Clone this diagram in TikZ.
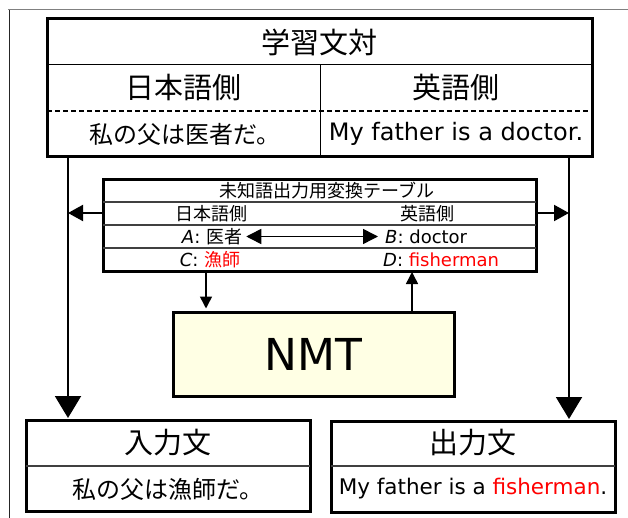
\documentclass[tikz,border=0pt]{standalone}
\usepackage{fontspec}
\setmainfont{DejaVu Sans}
\newfontfamily\jp{Noto Sans CJK JP}
\usetikzlibrary{arrows.meta,calc}
\definecolor{nmtfill}{RGB}{255,255,228}
\newcommand{\fsz}[1]{\fontsize{#1}{#1}\selectfont}
\begin{document}
\begin{tikzpicture}[x=1pt,y=-1pt,
 thickbox/.style={draw, line width=3pt, inner sep=0pt, outer sep=0pt},
 thinline/.style={line width=1pt},
 rowline/.style={line width=1.5pt, draw=black!75},
 lbl/.style={inner sep=0pt, anchor=center},
 bigarrow/.style={line width=2pt, -{Triangle[length=22pt,width=26pt]}},
 midarrow/.style={line width=2pt, -{Triangle[length=15pt,width=16pt]}},
 smallarrow/.style={line width=1.5pt, -{Triangle[length=12pt,width=12pt]}},
 dblarrow/.style={line width=1.5pt, {Triangle[length=15pt,width=15pt]}-{Triangle[length=15pt,width=15pt]}},
]
\useasboundingbox (0,0) rectangle (628,518);
\fill[white] (0,0) rectangle (628,518);
% outer frame
\draw[gray, line width=1.5pt] (8,9.5) -- (628,9.5);
\draw[black!85, line width=1pt] (9,10) -- (9,518);

% training pair table
\node[thickbox, minimum width=545pt, minimum height=138pt] (train) at (319.5,88) {};
\coordinate (y65) at (0,65);
\coordinate (y111) at (0,111);
\coordinate (xdiv) at (320,0);
\draw[thinline] (train.west |- y65) -- (train.east |- y65);
\draw[line width=1.3pt, dash pattern=on 5pt off 3pt] (train.west |- y111) -- (train.east |- y111);
\draw[thinline] (xdiv |- y65) -- (xdiv |- train.south);
\node[lbl] (ttl) at (319.5,42) {\jp\fsz{29}学習文対};
\node[lbl] (jph) at (183.5,88) {\jp\fsz{29}日本語側};
\node[lbl] (enh) at (456,88) {\jp\fsz{29}英語側};
\node[lbl] (jps) at (185,134) {\jp\fsz{24}私の父は医者だ。};
\node[lbl] (ens) at (456,134) {\fsz{24}My father is a doctor.};

% conversion table
\node[thickbox, minimum width=433pt, minimum height=91pt] (conv) at (319.5,225.5) {};
\coordinate (r1) at (0,202);
\coordinate (r2) at (0,225);
\coordinate (r3) at (0,248);
\draw[rowline] (conv.west |- r1) -- (conv.east |- r1);
\draw[rowline] (conv.west |- r2) -- (conv.east |- r2);
\draw[rowline] (conv.west |- r3) -- (conv.east |- r3);
\node[lbl] (ctitle) at (327,191) {\jp\fsz{18}未知語出力用変換テーブル};
\node[lbl] (cjp) at (211,213.5) {\jp\fsz{18}日本語側};
\node[lbl] (cen) at (427,213.5) {\jp\fsz{18}英語側};
\node[lbl] (ca) at (212,236.5) {\fsz{18}\textit{A}: {\jp 医者}};
\node[lbl, anchor=west] (cb) at (385,236.5) {\fsz{18}\textit{B}: doctor};
\node[lbl] (cc) at (210,259.5) {\fsz{18}\textit{C}: \textcolor{red}{\jp 漁師}};
\node[lbl, anchor=west] (cd) at (383,259.5) {\fsz{18}\textit{D}: \textcolor{red}{fisherman}};
\draw[dblarrow] ($(ca.east)+(4,0)$) -- ($(cb.west |- ca.east)+(-7,0)$);

% NMT
\node[draw, line width=3pt, fill=nmtfill, minimum width=281pt, minimum height=84pt] (nmt) at (313.5,354) {\fsz{44}NMT};

% bottom boxes
\node[thickbox, minimum width=284pt, minimum height=91pt] (inbox) at (168,465.5) {};
\node[thickbox, minimum width=284pt, minimum height=91pt] (outbox) at (473,466.5) {};
\coordinate (y466) at (0,466);
\draw[rowline] (inbox.west |- y466) -- (inbox.east |- y466);
\draw[rowline] (outbox.west |- y466) -- (outbox.east |- y466);
\node[lbl] (inh) at (168,443) {\jp\fsz{29}入力文};
\node[lbl] (ins) at (168,489) {\jp\fsz{24}私の父は漁師だ。};
\node[lbl] (outh) at (473,443) {\jp\fsz{29}出力文};
\node[lbl] (outs) at (473,489) {\fsz{21.5}My father is a \textcolor{red}{fisherman}.};

% connectors
\coordinate (lx) at (68,0);
\coordinate (rx) at (569,0);
\coordinate (ay) at (0,213);
\draw[bigarrow, shorten >=2pt] (lx |- train.south) -- (lx |- inbox.north);
\draw[bigarrow, shorten >=2pt] (rx |- train.south) -- (rx |- outbox.north);
\draw[midarrow] (conv.west |- ay) -- (lx |- ay);
\draw[midarrow] (conv.east |- ay) -- (rx |- ay);
\coordinate (dx) at (206,0);
\coordinate (ux) at (412,0);
\draw[smallarrow, shorten >=2pt] (dx |- conv.south) -- (dx |- nmt.north);
\draw[smallarrow, shorten >=1pt] (ux |- nmt.north) -- (ux |- conv.south);
\end{tikzpicture}
\end{document}
